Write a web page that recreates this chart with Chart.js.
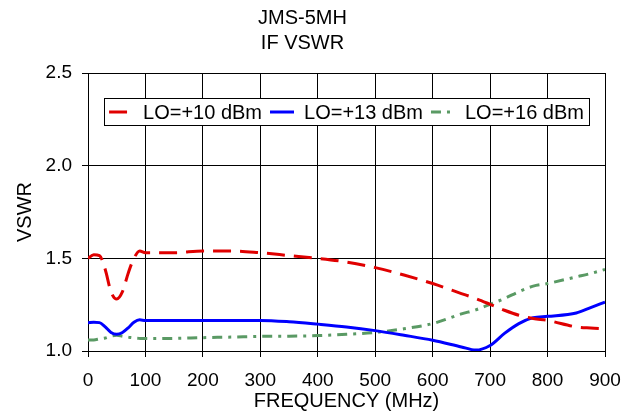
<!DOCTYPE html>
<html>
<head>
<meta charset="utf-8">
<script src="https://cdn.jsdelivr.net/npm/chart.js@4"></script>
<style>
  html, body { margin: 0; padding: 0; background: #fff; }
  #wrap { width: 636px; height: 414px; }
</style>
</head>
<body>
<div id="wrap"><canvas id="grafico"></canvas></div>
<script>
// valores
const frequencias = [0, 10, 20, 30, 40, 50, 60, 70, 80, 90, 100, 150, 200, 250, 300, 350, 400, 450, 500, 550, 600, 650, 675, 700, 725, 750, 775, 800, 850, 875, 900];
const vswrLo10 = [1.50, 1.52, 1.515, 1.44, 1.32, 1.28, 1.32, 1.42, 1.50, 1.54, 1.53, 1.53, 1.54, 1.54, 1.53, 1.515, 1.50, 1.48, 1.45, 1.41, 1.364, 1.31, 1.283, 1.252, 1.22, 1.193, 1.175, 1.165, 1.13, 1.124, 1.12];
const vswrLo13 = [1.153, 1.155, 1.153, 1.13, 1.10, 1.09, 1.10, 1.125, 1.155, 1.168, 1.165, 1.165, 1.165, 1.165, 1.165, 1.158, 1.145, 1.13, 1.11, 1.085, 1.058, 1.022, 1.005, 1.03, 1.095, 1.148, 1.18, 1.187, 1.205, 1.234, 1.264];
const vswrLo16 = [1.06, 1.06, 1.065, 1.07, 1.08, 1.085, 1.08, 1.075, 1.07, 1.068, 1.067, 1.068, 1.072, 1.075, 1.079, 1.08, 1.083, 1.09, 1.10, 1.12, 1.148, 1.20, 1.222, 1.252, 1.283, 1.32, 1.35, 1.364, 1.40, 1.418, 1.44];
const nomesSeries = ['LO=+10 dBm', 'LO=+13 dBm', 'LO=+16 dBm'];
const ticksY = [1.0, 1.5, 2.0, 2.5];

const fonte = "'Liberation Sans', Arial, sans-serif";

function pontos(valores) {
  return frequencias.map((f, i) => ({ x: f, y: valores[i] }));
}

// legenda desenhada dentro da area do grafico, com moldura
const legendaCaixa = {
  id: 'legendaCaixa',
  afterDatasetsDraw(chart) {
    const ctx = chart.ctx;
    const area = chart.chartArea;
    const tamLinha = 24, gap = 10, entre = 8, pad = 5;
    ctx.save();
    ctx.font = '20px ' + fonte;
    const larguras = chart.data.datasets.map(ds => ctx.measureText(ds.label).width);
    let total = larguras.reduce((a, b) => a + b, 0) + chart.data.datasets.length * (tamLinha + gap) + entre * (chart.data.datasets.length - 1);
    const x0 = (area.left + area.right) / 2 - total / 2;
    const top = 98, alt = 27;
    ctx.fillStyle = '#fff';
    ctx.fillRect(x0 - pad, top, total + pad * 2, alt);
    ctx.strokeStyle = '#000';
    ctx.lineWidth = 1;
    ctx.strokeRect(Math.round(x0 - pad) + 0.5, top + 0.5, Math.round(total + pad * 2), alt);
    let x = x0;
    const yMeio = top + alt / 2 + 0.5;
    chart.data.datasets.forEach((ds, i) => {
      ctx.strokeStyle = ds.borderColor;
      ctx.lineWidth = ds.borderWidth;
      ctx.setLineDash(ds.borderDash || []);
      ctx.beginPath();
      ctx.moveTo(x, yMeio);
      ctx.lineTo(x + tamLinha, yMeio);
      ctx.stroke();
      ctx.setLineDash([]);
      ctx.fillStyle = '#000';
      ctx.textBaseline = 'middle';
      ctx.fillText(ds.label, x + tamLinha + gap, yMeio + 1);
      x += tamLinha + gap + larguras[i] + entre;
    });
    ctx.restore();
  }
};

const fundoBranco = {
  id: 'fundoBranco',
  beforeDraw(chart) {
    const ctx = chart.ctx;
    ctx.save();
    ctx.fillStyle = '#fff';
    ctx.fillRect(0, 0, chart.width, chart.height);
    ctx.restore();
  }
};

const grafico = new Chart(document.getElementById('grafico'), {
  type: 'line',
  data: {
    datasets: [{
      label: nomesSeries[0],
      data: pontos(vswrLo10),
      borderColor: '#e00000',
      borderWidth: 3,
      borderDash: [18, 9],
      pointRadius: 0,
      cubicInterpolationMode: 'monotone'
    }, {
      label: nomesSeries[1],
      data: pontos(vswrLo13),
      borderColor: '#0000ff',
      borderWidth: 3,
      pointRadius: 0,
      cubicInterpolationMode: 'monotone'
    }, {
      label: nomesSeries[2],
      data: pontos(vswrLo16),
      borderColor: '#5a9a64',
      borderWidth: 3,
      borderDash: [10, 6, 3, 6],
      pointRadius: 0,
      cubicInterpolationMode: 'monotone'
    }]
  },
  options: {
    responsive: true,
    maintainAspectRatio: false,
    animation: false,
    layout: { padding: { left: 0, right: 31, top: 0, bottom: 0 } },
    plugins: {
      legend: { display: false },
      tooltip: { enabled: false },
      title: {
        display: true,
        text: ['JMS-5MH', 'IF VSWR'],
        color: '#000',
        font: { family: fonte, size: 20, weight: 'normal', lineHeight: 1.25 },
        padding: { top: 5.5, bottom: 17.5 }
      }
    },
    scales: {
      x: {
        type: 'linear',
        min: 0,
        max: 900,
        afterFit: s => { s.height = 63; },
        ticks: { stepSize: 100, color: '#000', font: { family: fonte, size: 19 }, padding: 12, maxRotation: 0 },
        grid: { color: '#000', lineWidth: 1, tickLength: 6 },
        border: { color: '#000', width: 1 },
        title: { display: true, text: 'FREQUENCY (MHz)', color: '#000', font: { family: fonte, size: 20 }, padding: { top: 0, bottom: 1 } }
      },
      y: {
        min: 1,
        max: 2.5,
        afterFit: s => { s.width = 88; },
        afterBuildTicks: s => { s.ticks = ticksY.map(v => ({ value: v })); },
        ticks: { color: '#000', font: { family: fonte, size: 19 }, padding: 10, callback: v => v.toFixed(1) },
        grid: { color: '#000', lineWidth: 1, tickLength: 6 },
        border: { color: '#000', width: 1 },
        title: { display: true, text: 'VSWR', color: '#000', font: { family: fonte, size: 20 }, padding: { top: 13, bottom: 0 } }
      }
    }
  },
  plugins: [fundoBranco, legendaCaixa]
});
</script>
</body>
</html>
